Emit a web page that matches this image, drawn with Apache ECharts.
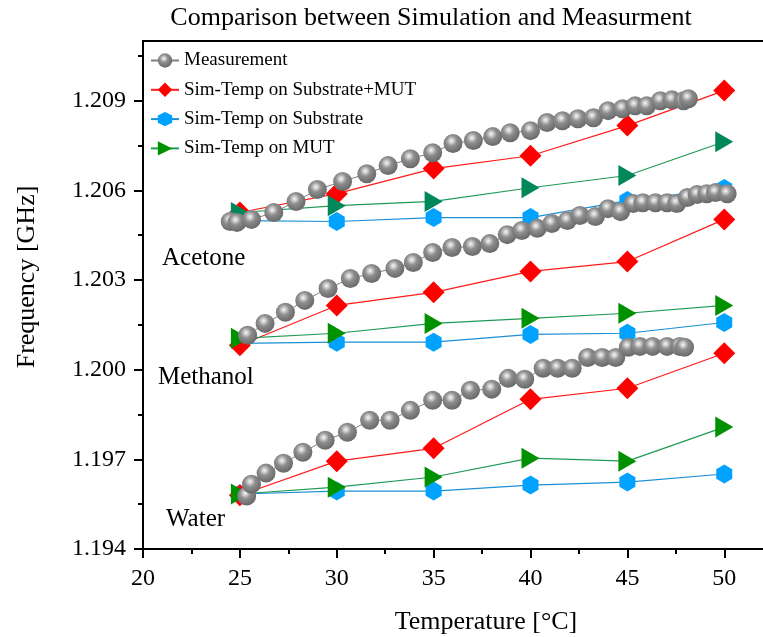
<!DOCTYPE html>
<html>
<head>
<meta charset="utf-8">
<script src="https://cdn.jsdelivr.net/npm/echarts@6/dist/echarts.min.js"></script>
<style>
  html, body { margin: 0; padding: 0; background: #fff; }
  #chart { width: 763px; height: 637px; }
</style>
</head>
<body>
<div id="chart"></div>
<script>
// Simulation temperatures (°C)
const simTemps = [25, 30, 35, 40, 45, 50];

// Simulated resonance frequency (GHz)
const acetoneSubMut  = [1.20526, 1.20589, 1.20673, 1.20716, 1.20817, 1.20934];
const acetoneSub     = [1.20499, 1.20496, 1.20509, 1.20509, 1.20566, 1.20606];
const acetoneMut     = [1.20526, 1.20549, 1.20563, 1.20609, 1.20650, 1.20763];
const methanolSubMut = [1.20082, 1.20215, 1.20259, 1.20329, 1.20362, 1.20503];
const methanolSub    = [1.20088, 1.20092, 1.20092, 1.20118, 1.20122, 1.20158];
const methanolMut    = [1.20105, 1.20122, 1.20155, 1.20172, 1.20189, 1.20215];
const waterSubMut    = [1.19580, 1.19694, 1.19737, 1.19901, 1.19938, 1.20055];
const waterSub       = [1.19584, 1.19594, 1.19594, 1.19614, 1.19624, 1.19651];
const waterMut       = [1.19584, 1.19607, 1.19641, 1.19704, 1.19694, 1.19808];

// Measured resonance frequency
const acetoneMeasT = [24.5, 24.85, 25.6, 26.75, 27.9, 29.0, 30.3, 31.55, 32.65, 33.8, 34.95, 36.0, 37.05, 38.05,
                      38.95, 40.0, 40.85, 41.65, 42.45, 43.25, 44.0, 44.75, 45.4, 46.0, 46.7, 47.3, 47.9, 48.15];
const acetoneMeasF = [1.20496, 1.20493, 1.20503, 1.20526, 1.20563, 1.20603, 1.20630, 1.20656, 1.20683, 1.20706,
                      1.20726, 1.20757, 1.20767, 1.20780, 1.20793, 1.20800, 1.20827, 1.20833, 1.20840, 1.20843,
                      1.20867, 1.20873, 1.20883, 1.20883, 1.20900, 1.20903, 1.20900, 1.20907];
const methanolMeasT = [25.4, 26.3, 27.35, 28.35, 29.55, 30.7, 31.8, 33.0, 33.95, 34.95, 35.95, 37.0, 37.9, 38.8,
                       39.55, 40.35, 41.1, 41.9, 42.55, 43.35, 44.0, 44.65, 45.3, 45.8, 46.45, 47.05, 47.55, 48.1,
                       48.6, 49.1, 49.55, 50.15];
const methanolMeasF = [1.20115, 1.20155, 1.20192, 1.20232, 1.20272, 1.20305, 1.20322, 1.20339, 1.20359, 1.20392,
                       1.20409, 1.20412, 1.20422, 1.20452, 1.20466, 1.20473, 1.20489, 1.20499, 1.20516, 1.20513,
                       1.20539, 1.20529, 1.20556, 1.20559, 1.20559, 1.20559, 1.20556, 1.20576, 1.20586, 1.20589,
                       1.20593, 1.20589];
const waterMeasT = [25.35, 25.6, 26.35, 27.25, 28.25, 29.4, 30.55, 31.7, 32.75, 33.8, 34.95, 35.95, 36.9, 38.0,
                    38.85, 39.7, 40.65, 41.4, 42.15, 42.95, 43.7, 44.4, 45.05, 45.65, 46.3, 47.05, 47.7, 47.95];
const waterMeasF = [1.19577, 1.19617, 1.19654, 1.19687, 1.19724, 1.19764, 1.19791, 1.19831, 1.19831, 1.19864,
                    1.19898, 1.19898, 1.19931, 1.19935, 1.19971, 1.19968, 1.20005, 1.20005, 1.20005, 1.20041,
                    1.20041, 1.20041, 1.20075, 1.20078, 1.20078, 1.20078, 1.20078, 1.20075];

// Axis ticks
const xMajorTicks = [20, 25, 30, 35, 40, 45, 50];
const xMinorTicks = [22.5, 27.5, 32.5, 37.5, 42.5, 47.5];
const yMajorTicks = [1.194, 1.197, 1.200, 1.203, 1.206, 1.209];
const yMinorTicks = [1.1955, 1.1985, 1.2015, 1.2045, 1.2075, 1.2105];

const NAME_MEAS = 'Measurement';
const NAME_SUBMUT = 'Sim-Temp on Substrate+MUT';
const NAME_SUB = 'Sim-Temp on Substrate';
const NAME_MUT = 'Sim-Temp on MUT';

const FONT = '"Liberation Serif", "Times New Roman", serif';

const zip = (xs, ys) => xs.map((x, i) => [x, ys[i]]);

const ball = new echarts.graphic.RadialGradient(0.42, 0.36, 0.62, [
  { offset: 0, color: '#f7f7f7' },
  { offset: 0.18, color: '#cfcfcf' },
  { offset: 0.45, color: '#8e8e8e' },
  { offset: 1, color: '#6a6a6a' }
]);
const hexPath = 'path://M0,-1 L0.866,-0.5 L0.866,0.5 L0,1 L-0.866,0.5 L-0.866,-0.5 Z';
const triRightPath = 'path://M0,0 L1,0.5 L0,1 Z';

function measSeries(t, f) {
  return {
    name: NAME_MEAS, type: 'line', data: zip(t, f), z: 6,
    symbol: 'circle', symbolSize: 19,
    itemStyle: { color: ball, borderWidth: 0 },
    lineStyle: { color: '#7f7f7f', width: 1 },
    emphasis: { disabled: true }
  };
}
function subMutSeries(f) {
  return {
    name: NAME_SUBMUT, type: 'line', data: zip(simTemps, f), z: 4,
    symbol: 'diamond', symbolSize: [22, 22],
    itemStyle: { color: '#ff0000' },
    lineStyle: { color: '#ff1a1a', width: 1.2 },
    emphasis: { disabled: true }
  };
}
function subSeries(f) {
  return {
    name: NAME_SUB, type: 'line', data: zip(simTemps, f), z: 3,
    symbol: hexPath, symbolSize: [16, 19],
    itemStyle: { color: '#00a2ff' },
    lineStyle: { color: '#1b8fd6', width: 1.2 },
    emphasis: { disabled: true }
  };
}
function mutSeries(f, color) {
  return {
    name: NAME_MUT, type: 'line', data: zip(simTemps, f), z: 5,
    symbol: triRightPath, symbolSize: [18, 21],
    itemStyle: { color: color },
    lineStyle: { color: '#1f9a55', width: 1.2 },
    emphasis: { disabled: true }
  };
}

const chart = echarts.init(document.getElementById('chart'), null, { renderer: 'canvas' });

const option = {
  animation: false,
  backgroundColor: '#fff',
  grid: { left: 143, right: 0, top: 41, bottom: 88, containLabel: false },
  legend: {
    data: [NAME_MEAS, NAME_SUBMUT, NAME_SUB, NAME_MUT],
    orient: 'vertical',
    left: 145, top: 46,
    itemWidth: 28, itemHeight: 18, itemGap: 10.3,
    textStyle: { fontFamily: FONT, fontSize: 19, color: '#000', lineHeight: 18 },
    selectedMode: false
  },
  xAxis: [{
    type: 'value', min: 20, max: 52, position: 'bottom',
    axisLine: { show: true, lineStyle: { color: '#000', width: 2 } },
    axisTick: { show: true, inside: false, length: 9, lineStyle: { color: '#000', width: 2 }, customValues: xMajorTicks },
    axisLabel: { customValues: xMajorTicks, margin: 18, fontFamily: FONT, fontSize: 24, color: '#000' },
    splitLine: { show: false }
  }, {
    type: 'value', min: 20, max: 52, position: 'bottom', offset: 0,
    axisLine: { show: false },
    axisTick: { show: true, inside: false, length: 5, lineStyle: { color: '#000', width: 2 }, customValues: xMinorTicks },
    axisLabel: { show: false },
    splitLine: { show: false }
  }, {
    type: 'value', min: 20, max: 52, position: 'top',
    axisLine: { show: true, lineStyle: { color: '#000', width: 2 } },
    axisTick: { show: false }, axisLabel: { show: false }, splitLine: { show: false }
  }],
  yAxis: [{
    type: 'value', min: 1.194, max: 1.211, position: 'left',
    axisLine: { show: true, lineStyle: { color: '#000', width: 2 } },
    axisTick: { show: true, inside: false, length: 9, lineStyle: { color: '#000', width: 2 }, customValues: yMajorTicks },
    axisLabel: { customValues: yMajorTicks, margin: 17, fontFamily: FONT, fontSize: 24, color: '#000',
                 formatter: v => v.toFixed(3) },
    splitLine: { show: false }
  }, {
    type: 'value', min: 1.194, max: 1.211, position: 'left', offset: 0,
    axisLine: { show: false },
    axisTick: { show: true, inside: false, length: 5, lineStyle: { color: '#000', width: 2 }, customValues: yMinorTicks },
    axisLabel: { show: false },
    splitLine: { show: false }
  }],
  series: [
    measSeries(acetoneMeasT, acetoneMeasF),
    measSeries(methanolMeasT, methanolMeasF),
    measSeries(waterMeasT, waterMeasF),
    subMutSeries(acetoneSubMut),
    subMutSeries(methanolSubMut),
    subMutSeries(waterSubMut),
    subSeries(acetoneSub),
    subSeries(methanolSub),
    subSeries(waterSub),
    mutSeries(methanolMut, '#009100'),
    mutSeries(acetoneMut, '#00875a'),
    mutSeries(waterMut, '#009100')
  ],
  graphic: [
    { type: 'text', x: 431, y: 18, silent: true,
      style: { text: 'Comparison between Simulation and Measurment', font: '26px ' + FONT, fill: '#000',
               align: 'center', verticalAlign: 'middle', textAlign: 'center', textVerticalAlign: 'middle' } },
    { type: 'text', x: 486, y: 622, silent: true,
      style: { text: 'Temperature [°C]', font: '26px ' + FONT, fill: '#000',
               align: 'center', verticalAlign: 'middle', textAlign: 'center', textVerticalAlign: 'middle' } },
    { type: 'text', x: 27, y: 277, rotation: Math.PI / 2, silent: true,
      style: { text: 'Frequency [GHz]', font: '26px ' + FONT, fill: '#000',
               align: 'center', verticalAlign: 'middle', textAlign: 'center', textVerticalAlign: 'middle' } },
    { type: 'text', x: 162, y: 258, silent: true,
      style: { text: 'Acetone', font: '25px ' + FONT, fill: '#000',
               align: 'left', verticalAlign: 'middle', textAlign: 'left', textVerticalAlign: 'middle' } },
    { type: 'text', x: 158, y: 377, silent: true,
      style: { text: 'Methanol', font: '25px ' + FONT, fill: '#000',
               align: 'left', verticalAlign: 'middle', textAlign: 'left', textVerticalAlign: 'middle' } },
    { type: 'text', x: 166, y: 519, silent: true,
      style: { text: 'Water', font: '25px ' + FONT, fill: '#000',
               align: 'left', verticalAlign: 'middle', textAlign: 'left', textVerticalAlign: 'middle' } }
  ]
};

chart.setOption(option);
</script>
</body>
</html>
